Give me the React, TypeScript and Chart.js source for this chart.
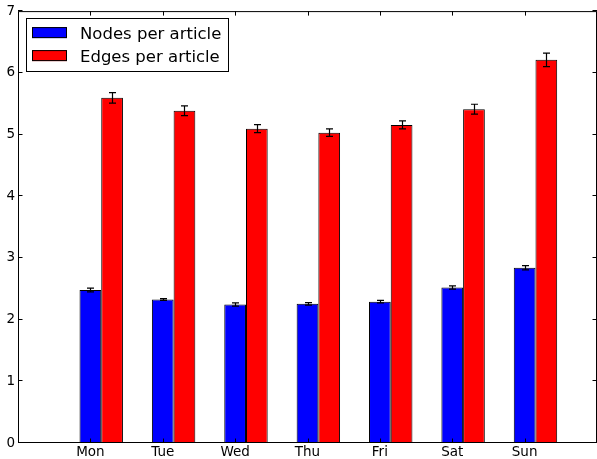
import { useEffect, useRef } from "react";
import { Chart, registerables } from "chart.js";

Chart.register(...registerables);

const DAYS = ["Mon", "Tue", "Wed", "Thu", "Fri", "Sat", "Sun"];
const NODES = [2.48, 2.325, 2.245, 2.255, 2.29, 2.52, 2.84];
const NODES_ERR = [0.03, 0.015, 0.025, 0.02, 0.02, 0.025, 0.035];
const EDGES = [5.595, 5.385, 5.095, 5.03, 5.155, 5.41, 6.21];
const EDGES_ERR = [0.085, 0.08, 0.065, 0.06, 0.065, 0.08, 0.11];
const Y_MIN = 0;
const Y_MAX = 7;
const BAR_WIDTH = 0.3;

const FONT = '"DejaVu Sans", sans-serif';

const errorBarPlugin = {
  id: "errorBars",
  afterDatasetsDraw(chart: any) {
    const { ctx, scales } = chart;
    ctx.save();
    ctx.strokeStyle = "#000";
    ctx.lineWidth = 1.2;
    chart.data.datasets.forEach((ds: any, di: number) => {
      const meta = chart.getDatasetMeta(di);
      meta.data.forEach((bar: any, i: number) => {
        const v = ds.data[i].y;
        const e = ds.errors[i];
        const x = Math.round(bar.x) + 0.5;
        const yTop = scales.y.getPixelForValue(v + e);
        const yBot = scales.y.getPixelForValue(v - e);
        const cap = 3.5;
        ctx.beginPath();
        ctx.moveTo(x, yTop);
        ctx.lineTo(x, yBot);
        ctx.moveTo(x - cap, yTop);
        ctx.lineTo(x + cap, yTop);
        ctx.moveTo(x - cap, yBot);
        ctx.lineTo(x + cap, yBot);
        ctx.stroke();
      });
    });
    ctx.restore();
  },
};

const framePlugin = {
  id: "frame",
  afterDatasetsDraw(chart: any) {
    const { ctx, chartArea: a, scales } = chart;
    ctx.save();
    ctx.strokeStyle = "#000";
    ctx.lineWidth = 1;
    ctx.strokeRect(a.left + 0.5, a.top + 0.5, a.right - a.left - 1, a.bottom - a.top - 1);
    const tl = 4.5;
    ctx.beginPath();
    scales.y.ticks.forEach((t: any) => {
      const y = Math.round(scales.y.getPixelForValue(t.value)) - 0.5;
      ctx.moveTo(a.left, y);
      ctx.lineTo(a.left + tl, y);
      ctx.moveTo(a.right, y);
      ctx.lineTo(a.right - tl, y);
    });
    scales.x.ticks.forEach((t: any) => {
      const x = Math.round(scales.x.getPixelForValue(t.value)) + 0.5;
      ctx.moveTo(x, a.top);
      ctx.lineTo(x, a.top + tl);
      ctx.moveTo(x, a.bottom);
      ctx.lineTo(x, a.bottom - tl);
    });
    ctx.stroke();
    ctx.restore();
  },
};

const legendPlugin = {
  id: "boxLegend",
  afterDraw(chart: any) {
    const { ctx, chartArea: a } = chart;
    const items = chart.data.datasets;
    ctx.save();
    ctx.font = `16.5px ${FONT}`;
    const textW = Math.max(...items.map((d: any) => ctx.measureText(d.label).width));
    const padL = 6, patchW = 35, patchH = 11, gap = 13, padR = 7, rowH = 23, padT = 9, padB = 10;
    const x0 = a.left + 8;
    const y0 = a.top + 7;
    const w = padL + patchW + gap + textW + padR;
    const h = padT + rowH * (items.length - 1) + patchH + padB;
    ctx.fillStyle = "#fff";
    ctx.fillRect(x0, y0, w, h);
    ctx.strokeStyle = "#000";
    ctx.lineWidth = 1;
    ctx.strokeRect(Math.round(x0) + 0.5, Math.round(y0) + 0.5, Math.round(w), Math.round(h));
    items.forEach((d: any, i: number) => {
      const py = y0 + padT + i * rowH;
      ctx.fillStyle = d.backgroundColor;
      ctx.fillRect(x0 + padL, py, patchW, patchH);
      ctx.strokeStyle = "#000";
      ctx.strokeRect(x0 + padL + 0.5, py + 0.5, patchW - 1, patchH - 1);
      ctx.fillStyle = "#000";
      ctx.textBaseline = "alphabetic";
      ctx.textAlign = "left";
      ctx.fillText(d.label, x0 + padL + patchW + gap, py + patchH / 2 + 6);
    });
    ctx.restore();
  },
};

export default function App() {
  const ref = useRef<HTMLCanvasElement | null>(null);

  useEffect(() => {
    if (!ref.current) return;
    Chart.defaults.font.family = FONT;
    Chart.defaults.color = "#000";
    const chart = new Chart(ref.current, {
      type: "bar",
      data: {
        datasets: [
          {
            label: "Nodes per article",
            data: NODES.map((v, i) => ({ x: i, y: v })),
            errors: NODES_ERR,
            backgroundColor: "#0000ff",
            borderColor: "#000",
            borderWidth: 1,
            borderSkipped: false,
            categoryPercentage: 2 * BAR_WIDTH,
            barPercentage: 1,
          } as any,
          {
            label: "Edges per article",
            data: EDGES.map((v, i) => ({ x: i, y: v })),
            errors: EDGES_ERR,
            backgroundColor: "#ff0000",
            borderColor: "#000",
            borderWidth: 1,
            borderSkipped: false,
            categoryPercentage: 2 * BAR_WIDTH,
            barPercentage: 1,
          } as any,
        ],
      },
      options: {
        animation: false,
        responsive: true,
        maintainAspectRatio: false,
        layout: { padding: { top: 11, right: 0, left: 0, bottom: 0 } },
        plugins: { legend: { display: false }, tooltip: { enabled: false } },
        scales: {
          x: {
            type: "linear",
            offset: false,
            min: -1 - BAR_WIDTH / 2,
            max: DAYS.length - BAR_WIDTH / 2,
            grid: { display: false, drawTicks: false, offset: false },
            border: { display: false },
            afterBuildTicks: (scale: any) => {
              scale.ticks = DAYS.map((_, i) => ({ value: i - BAR_WIDTH / 2 }));
            },
            afterFit: (scale: any) => {
              scale.height = 16;
            },
            ticks: {
              autoSkip: false,
              maxRotation: 0,
              padding: 1,
              font: { size: 13.5, family: FONT },
              color: "#000",
              callback: (_v: any, i: number) => DAYS[i],
            },
          },
          y: {
            min: Y_MIN,
            max: Y_MAX,
            grid: { display: false, drawTicks: false },
            border: { display: false },
            afterFit: (scale: any) => {
              scale.width = 18;
            },
            ticks: {
              stepSize: 1,
              padding: 3,
              font: { size: 13.5, family: FONT },
              color: "#000",
            },
          },
        },
      } as any,
      plugins: [errorBarPlugin, framePlugin, legendPlugin],
    });
    return () => chart.destroy();
  }, []);

  return (
    <div style={{ position: "absolute", left: 0, top: 0, width: 597, height: 459, background: "#fff" }}>
      <canvas ref={ref} />
    </div>
  );
}
